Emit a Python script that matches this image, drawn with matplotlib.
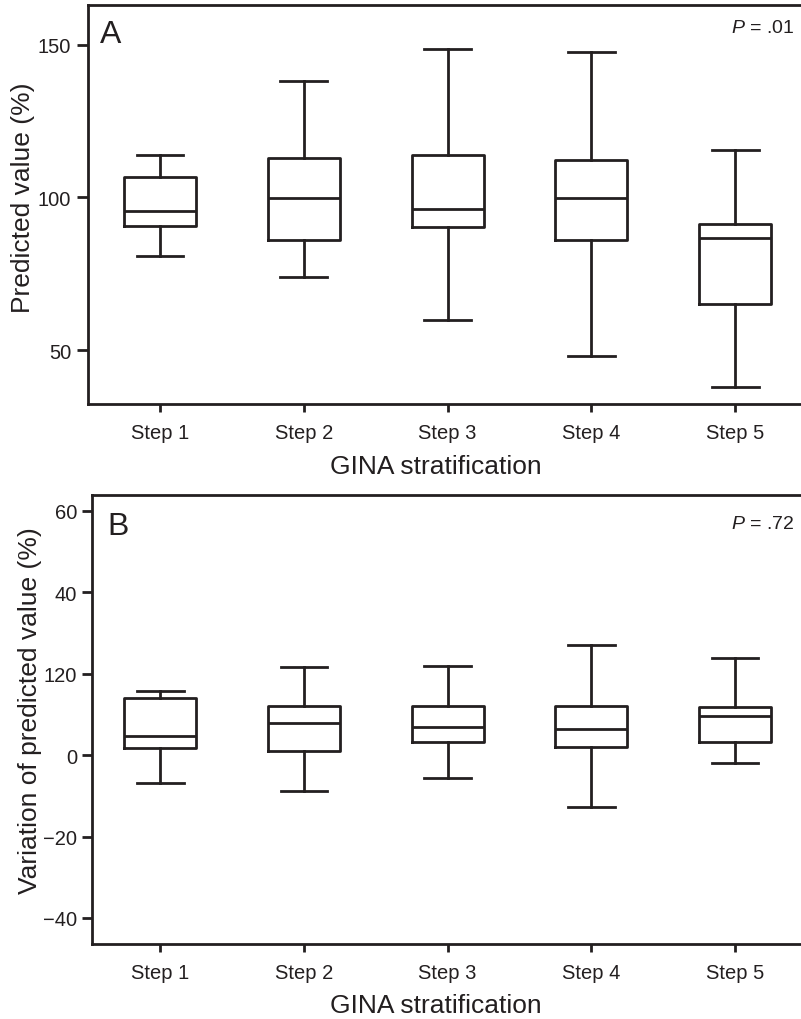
import matplotlib
matplotlib.use("Agg")
import matplotlib.pyplot as plt

plt.rcParams['font.family'] = ['Liberation Sans', 'DejaVu Sans']
plt.rcParams['mathtext.fontset'] = 'custom'
plt.rcParams['mathtext.rm'] = 'Liberation Sans'
plt.rcParams['mathtext.it'] = 'Liberation Sans:italic'

categories = ["Step 1", "Step 2", "Step 3", "Step 4", "Step 5"]

# Panel A: Predicted value (%)
a_whislo = [80.9, 74.0, 59.7, 48.0, 38.0]
a_q1     = [90.6, 86.2, 90.2, 86.0, 65.2]
a_med    = [95.5, 99.7, 96.3, 99.8, 86.6]
a_q3     = [106.8, 113.0, 114.0, 112.2, 91.3]
a_whishi = [114.0, 138.3, 148.7, 147.8, 115.6]

# Panel B: Variation of predicted value (%)
b_whislo = [-6.8, -8.8, -5.7, -12.7, -2.0]
b_q1     = [1.7, 1.0, 3.2, 2.1, 3.2]
b_med    = [4.6, 7.9, 6.9, 6.3, 9.6]
b_q3     = [14.0, 12.0, 12.0, 12.0, 11.9]
b_whishi = [15.8, 21.7, 22.0, 27.1, 23.9]

a_yticks = [50, 100, 150]
a_yticklabels = ["50", "100", "150"]
b_yticks = [60, 40, 20, 0, -20, -40]
b_yticklabels = ["60", "40", "120", "0", "\u221220", "\u221240"]

fig = plt.figure(figsize=(8.01, 10.20), dpi=100)
W, H = 801, 1020

def make_ax(l, t, r, b):
    return fig.add_axes([l / W, 1 - b / H, (r - l) / W, (b - t) / H])

axA = make_ax(88, 6, 801, 405)
axB = make_ax(92.3, 496, 801, 945)

lw = 2.0
col = "#231f20"

def ftext(x, y, s, **kw):
    fig.text(x / W, 1 - y / H, s, color=col, **kw)

def draw(ax, lo, q1, med, q3, hi, ytl):
    stats = []
    for i in range(len(categories)):
        stats.append(dict(whislo=lo[i], q1=q1[i], med=med[i], q3=q3[i],
                          whishi=hi[i], fliers=[], label=categories[i]))
    ax.bxp(stats, positions=range(1, len(categories) + 1), widths=0.5,
           capwidths=0.325, showfliers=False, patch_artist=False,
           boxprops=dict(color=col, linewidth=lw),
           whiskerprops=dict(color=col, linewidth=lw),
           capprops=dict(color=col, linewidth=lw),
           medianprops=dict(color=col, linewidth=lw))
    for s in ax.spines.values():
        s.set_linewidth(lw)
        s.set_color(col)
    ax.spines['right'].set_visible(False)
    ax.tick_params(axis='both', width=lw, color=col,
                   labelsize=14.5, labelcolor=col)
    ax.tick_params(axis='x', pad=8, length=6)
    ax.tick_params(axis='y', pad=4, length=ytl)

draw(axA, a_whislo, a_q1, a_med, a_q3, a_whishi, 8)
axA.set_xlim(0.5, 5.457)
axA.set_ylim(32.3, 163.1)
axA.set_yticks(a_yticks)
axA.set_yticklabels(a_yticklabels)
axA.set_xticks(range(1, 6))
axA.set_xticklabels(categories)
ftext(23, 197.5, "Predicted value (%)", fontsize=19, rotation=90,
      ha='center', va='center')
ftext(436, 474, "GINA stratification", fontsize=19, ha='center', va='baseline')
ftext(100, 43, "A", fontsize=23, ha='left', va='baseline')
ftext(794, 33, r"$\it{P}$ = .01", fontsize=14, ha='right', va='baseline')

draw(axB, b_whislo, b_q1, b_med, b_q3, b_whishi, 7)
axB.set_xlim(0.527, 5.46)
axB.set_ylim(-46.4, 63.9)
axB.set_yticks(b_yticks)
axB.set_yticklabels(b_yticklabels)
axB.set_xticks(range(1, 6))
axB.set_xticklabels(categories)
ftext(30, 711, "Variation of predicted value (%)", fontsize=19, rotation=90,
      ha='center', va='center')
ftext(436, 1013, "GINA stratification", fontsize=19, ha='center', va='baseline')
ftext(107, 535, "B", fontsize=23, ha='left', va='baseline')
ftext(794, 529, r"$\it{P}$ = .72", fontsize=14, ha='right', va='baseline')

fig.savefig("out.png", dpi=100)
